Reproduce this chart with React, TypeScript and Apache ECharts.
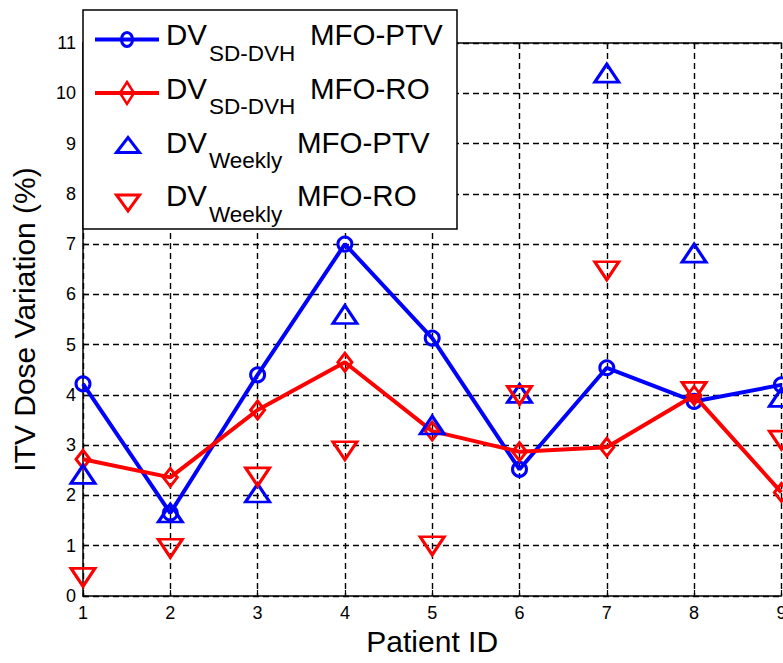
import React, { useEffect, useRef } from "react";
import * as echarts from "echarts";

const FONT = "'Liberation Sans', Arial, sans-serif";

const patientIds = [1, 2, 3, 4, 5, 6, 7, 8, 9];
const sdDvhPtv = [4.22, 1.65, 4.4, 7.0, 5.13, 2.52, 4.54, 3.87, 4.2];
const sdDvhRo = [2.72, 2.36, 3.7, 4.65, 3.28, 2.87, 2.96, 3.99, 2.06];
const weeklyPtv = [2.42, 1.65, 2.05, 5.6, 3.4, 4.03, 10.4, 6.82, 3.95];
const weeklyRo = [0.37, 0.95, 2.37, 2.89, 1.0, 3.99, 6.47, 4.07, 3.1];

const legendMain = ["DV", "DV", "DV", "DV"];
const legendSub = ["SD-DVH", "SD-DVH", "Weekly", "Weekly"];
const legendTail = ["MFO-PTV", "MFO-RO", "MFO-PTV", "MFO-RO"];
const seriesNames = legendMain.map((m, i) => `${m}_${legendSub[i]} ${legendTail[i]}`);

const BLUE = "#0000ff";
const RED = "#ff0000";
const UP_TRI = "path://M0,20L12,0L24,20Z";
const DOWN_TRI = "path://M0,0L24,0L12,20Z";

const pairs = (ys: number[]) => patientIds.map((x, i) => [x, ys[i]]);

function buildLegend() {
  const Z = 100;
  const box = { left: 83, top: 10, width: 374, height: 219 };
  const rowY = [34.5, 88, 142, 195.5]; // cap centres of "DV"
  const tailX = [310, 310, 297, 297];
  const children: any[] = [
    {
      type: "rect",
      shape: { x: box.left, y: box.top, width: box.width, height: box.height },
      style: { fill: "#fff", stroke: "#000", lineWidth: 1.5 },
      z: Z,
    },
  ];
  const iconCx = 127;
  children.push(
    { type: "line", shape: { x1: 95, y1: rowY[0] + 5, x2: 159, y2: rowY[0] + 5 }, style: { stroke: BLUE, lineWidth: 4 }, z: Z + 1 },
    { type: "ellipse", shape: { cx: iconCx, cy: rowY[0] + 5, rx: 5.5, ry: 7 }, style: { fill: "rgba(0,0,0,0)", stroke: BLUE, lineWidth: 3 }, z: Z + 2 },
    { type: "line", shape: { x1: 95, y1: rowY[1] + 5, x2: 159, y2: rowY[1] + 5 }, style: { stroke: RED, lineWidth: 4 }, z: Z + 1 },
    {
      type: "polygon",
      shape: { points: [[iconCx, rowY[1] - 6], [iconCx + 7, rowY[1] + 5], [iconCx, rowY[1] + 16], [iconCx - 7, rowY[1] + 5]] },
      style: { fill: "rgba(0,0,0,0)", stroke: RED, lineWidth: 2.5 },
      z: Z + 2,
    },
    {
      type: "polygon",
      shape: { points: [[116.5, rowY[2] + 10.5], [iconCx + 1, rowY[2] - 4.5], [139.5, rowY[2] + 10.5]] },
      style: { fill: "rgba(0,0,0,0)", stroke: BLUE, lineWidth: 3 },
      z: Z + 2,
    },
    {
      type: "polygon",
      shape: { points: [[116.5, rowY[3] - 0.5], [139.5, rowY[3] - 0.5], [iconCx + 1, rowY[3] + 15.5]] },
      style: { fill: "rgba(0,0,0,0)", stroke: RED, lineWidth: 3 },
      z: Z + 2,
    }
  );
  for (let i = 0; i < 4; i++) {
    children.push(
      {
        type: "text",
        x: 166,
        y: rowY[i],
        style: { text: legendMain[i], fontSize: 29.5, fontFamily: FONT, fill: "#000", verticalAlign: "middle", align: "left" },
        z: Z + 3,
      },
      {
        type: "text",
        x: 209,
        y: rowY[i] + 18.5,
        style: { text: legendSub[i], fontSize: 22.5, fontFamily: FONT, fill: "#000", verticalAlign: "middle", align: "left" },
        z: Z + 3,
      },
      {
        type: "text",
        x: tailX[i],
        y: rowY[i],
        style: { text: legendTail[i], fontSize: 29.5, fontFamily: FONT, fill: "#000", verticalAlign: "middle", align: "left" },
        z: Z + 3,
      }
    );
  }
  return children;
}

export default function App() {
  const ref = useRef<HTMLDivElement>(null);
  useEffect(() => {
    if (!ref.current) return;
    const chart = echarts.init(ref.current, undefined, { renderer: "svg" });
    const axisLineStyle = { color: "#000", width: 1.5 };
    const splitStyle = { color: "#000", width: 1.4, type: [6, 4] as any };
    const tickStyle = { show: true, inside: true, length: 6, lineStyle: { color: "#000", width: 1.2 } };
    const option: any = {
      animation: false,
      backgroundColor: "#fff",
      textStyle: { fontFamily: FONT },
      grid: { left: 83, top: 43, bottom: 67, right: 1.6, show: false, containLabel: false, outerBoundsMode: "none" },
      xAxis: [
        {
          type: "value",
          min: 1,
          max: 9,
          interval: 1,
          axisLine: { show: true, onZero: false, lineStyle: axisLineStyle },
          axisTick: tickStyle,
          axisLabel: { color: "#000", fontSize: 18, margin: 8, fontFamily: FONT },
          splitLine: { show: true, lineStyle: splitStyle },
          name: "Patient ID",
          nameLocation: "middle",
          nameGap: 27,
          nameTextStyle: { fontSize: 30, color: "#000", fontFamily: FONT },
        },
        {
          type: "value",
          position: "top",
          min: 1,
          max: 9,
          interval: 1,
          axisLine: { show: true, onZero: false, lineStyle: axisLineStyle },
          axisTick: tickStyle,
          axisLabel: { show: false },
          splitLine: { show: false },
        },
      ],
      yAxis: [
        {
          type: "value",
          min: 0,
          max: 11,
          interval: 1,
          axisLine: { show: true, onZero: false, lineStyle: axisLineStyle },
          axisTick: tickStyle,
          axisLabel: { color: "#000", fontSize: 18, margin: 7, fontFamily: FONT },
          splitLine: { show: true, lineStyle: splitStyle },
          name: "ITV Dose Variation (%)",
          nameLocation: "middle",
          nameGap: 44,
          nameTextStyle: { fontSize: 30, color: "#000", fontFamily: FONT },
        },
      ],
      graphic: buildLegend(),
      series: [
        {
          name: seriesNames[0],
          type: "line",
          data: pairs(sdDvhPtv),
          symbol: "circle",
          symbolSize: 14,
          lineStyle: { color: BLUE, width: 4 },
          itemStyle: { color: "rgba(0,0,0,0)", borderColor: BLUE, borderWidth: 3 },
          clip: false,
          silent: true,
          z: 2,
        },
        {
          name: seriesNames[1],
          type: "line",
          data: pairs(sdDvhRo),
          symbol: "diamond",
          symbolSize: [14, 18],
          lineStyle: { color: RED, width: 4 },
          itemStyle: { color: "rgba(0,0,0,0)", borderColor: RED, borderWidth: 3 },
          clip: false,
          silent: true,
          z: 3,
        },
        {
          name: seriesNames[2],
          type: "scatter",
          data: pairs(weeklyPtv),
          symbol: UP_TRI,
          symbolSize: [24, 18],
          itemStyle: { color: "rgba(0,0,0,0)", borderColor: BLUE, borderWidth: 3, opacity: 1 },
          clip: false,
          silent: true,
          z: 4,
        },
        {
          name: seriesNames[3],
          type: "scatter",
          data: pairs(weeklyRo),
          symbol: DOWN_TRI,
          symbolSize: [24, 18],
          itemStyle: { color: "rgba(0,0,0,0)", borderColor: RED, borderWidth: 3, opacity: 1 },
          clip: false,
          silent: true,
          z: 5,
        },
      ],
    };
    chart.setOption(option);
    return () => chart.dispose();
  }, []);
  return (
    <div
      ref={ref}
      style={{ position: "fixed", left: 0, top: 0, width: 783, height: 663, background: "#fff" }}
    />
  );
}
